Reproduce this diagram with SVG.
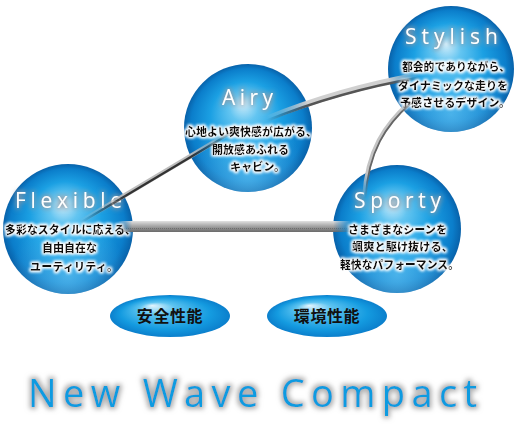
<svg xmlns="http://www.w3.org/2000/svg" width="519" height="430" viewBox="0 0 519 430">
<style>
.sph{fill:url(#sph)}
.rim{fill:url(#rim)}
.ttl{font-family:"Open Sans","DejaVu Sans",sans-serif;font-weight:400;font-size:21px;fill:#fff;filter:url(#tg)}
.jp{font-family:"Noto Sans CJK JP",sans-serif;font-weight:900;font-size:11px;fill:#111;filter:url(#jg)}
.pill{fill:url(#pill)}
.pl{font-family:"Noto Sans CJK JP",sans-serif;font-weight:700;font-size:16px;fill:#111;text-anchor:middle;letter-spacing:0.6px}
.big{font-family:"Open Sans","DejaVu Sans",sans-serif;font-weight:400;font-size:38px;fill:#0c9be0;filter:url(#bg)}
</style>
<defs>
<radialGradient id="sph" cx=".5" cy=".5" r=".5" fx=".46" fy=".3">
<stop offset="0" stop-color="#d6effb"/>
<stop offset=".22" stop-color="#63c5f1"/>
<stop offset=".55" stop-color="#1ba0e3"/>
<stop offset=".88" stop-color="#0b7ecb"/>
<stop offset="1" stop-color="#0862aa"/>
</radialGradient>
<radialGradient id="rim" cx=".5" cy=".86" r=".45">
<stop offset="0" stop-color="#7ad6ff" stop-opacity=".55"/>
<stop offset="1" stop-color="#7ad6ff" stop-opacity="0"/>
</radialGradient>
<radialGradient id="pill" cx=".5" cy=".5" r=".5" fx=".35" fy=".25">
<stop offset="0" stop-color="#e4f5fd"/>
<stop offset=".3" stop-color="#5cc3f0"/>
<stop offset=".75" stop-color="#149be0"/>
<stop offset="1" stop-color="#0b7fcc"/>
</radialGradient>
<linearGradient id="band" x1="0" y1="0" x2="0" y2="1">
<stop offset="0" stop-color="#e2e2e2"/>
<stop offset=".35" stop-color="#b4b4b4"/>
<stop offset=".7" stop-color="#8a8a8a"/>
<stop offset="1" stop-color="#6a6a6a"/>
</linearGradient>
<linearGradient id="f1" gradientUnits="userSpaceOnUse" x1="80" y1="222" x2="236" y2="129">
<stop offset="0" stop-color="#000"/><stop offset=".3" stop-color="#fff"/><stop offset=".7" stop-color="#fff"/><stop offset="1" stop-color="#000"/>
</linearGradient>
<linearGradient id="f2" gradientUnits="userSpaceOnUse" x1="266" y1="118" x2="420" y2="75">
<stop offset="0" stop-color="#000"/><stop offset=".28" stop-color="#fff"/><stop offset=".8" stop-color="#fff"/><stop offset="1" stop-color="#000"/>
</linearGradient>
<linearGradient id="f3" gradientUnits="userSpaceOnUse" x1="0" y1="100" x2="0" y2="198">
<stop offset="0" stop-color="#000"/><stop offset=".12" stop-color="#fff"/><stop offset=".75" stop-color="#fff"/><stop offset="1" stop-color="#000"/>
</linearGradient>
<linearGradient id="f4" gradientUnits="userSpaceOnUse" x1="118" y1="0" x2="352" y2="0">
<stop offset="0" stop-color="#000"/><stop offset=".06" stop-color="#fff"/><stop offset=".92" stop-color="#fff"/><stop offset="1" stop-color="#000"/>
</linearGradient>
<mask id="m1" maskUnits="userSpaceOnUse" x="0" y="0" width="519" height="430"><rect width="519" height="430" fill="url(#f1)"/></mask>
<mask id="m2" maskUnits="userSpaceOnUse" x="0" y="0" width="519" height="430"><rect width="519" height="430" fill="url(#f2)"/></mask>
<mask id="m3" maskUnits="userSpaceOnUse" x="0" y="0" width="519" height="430"><rect width="519" height="430" fill="url(#f3)"/></mask>
<mask id="m4" maskUnits="userSpaceOnUse" x="0" y="0" width="519" height="430"><rect width="519" height="430" fill="url(#f4)"/></mask>
<filter id="jg" x="-10%" y="-60%" width="120%" height="220%">
<feMorphology in="SourceAlpha" operator="dilate" radius="1.4" result="d"/>
<feGaussianBlur in="d" stdDeviation="1.5" result="b"/>
<feFlood flood-color="#fff" flood-opacity="0.95"/>
<feComposite in2="b" operator="in" result="g"/>
<feMerge><feMergeNode in="g"/><feMergeNode in="g"/><feMergeNode in="SourceGraphic"/></feMerge>
</filter>
<filter id="tg" x="-20%" y="-60%" width="140%" height="220%">
<feMorphology in="SourceAlpha" operator="dilate" radius="1" result="d"/>
<feGaussianBlur in="d" stdDeviation="2.5" result="b"/>
<feFlood flood-color="#8c9aa6" flood-opacity="0.95"/>
<feComposite in2="b" operator="in" result="g"/>
<feMerge><feMergeNode in="g"/><feMergeNode in="SourceGraphic"/></feMerge>
</filter>
<filter id="bg" x="-5%" y="-40%" width="110%" height="180%">
<feMorphology in="SourceAlpha" operator="dilate" radius="1.5" result="d"/>
<feGaussianBlur in="d" stdDeviation="2.5" result="b"/>
<feFlood flood-color="#9a9a9a" flood-opacity="0.8"/>
<feComposite in2="b" operator="in" result="g"/>
<feMerge><feMergeNode in="g"/><feMergeNode in="SourceGraphic"/></feMerge>
</filter>
</defs>
<rect width="519" height="430" fill="#fff"/>

<g id="node-airy">
<circle class="sph" cx="248" cy="128" r="64"/>
<circle class="rim" cx="248" cy="128" r="64"/>
<text class="ttl" x="222" y="105" textLength="51" lengthAdjust="spacing">Airy</text>
<text class="jp" x="185" y="136" textLength="132" lengthAdjust="spacingAndGlyphs">心地よい爽快感が広がる、</text>
<text class="jp" x="212" y="154" textLength="77" lengthAdjust="spacing">開放感あふれる</text>
<text class="jp" x="230" y="171" textLength="55" lengthAdjust="spacing">キャビン。</text>
</g>

<g id="node-stylish">
<circle class="sph" cx="451" cy="69" r="63"/>
<circle class="rim" cx="451" cy="69" r="63"/>
<text class="ttl" x="405" y="44" textLength="93" lengthAdjust="spacing">Stylish</text>
<text class="jp" x="402" y="71" textLength="108" lengthAdjust="spacingAndGlyphs">都会的でありながら、</text>
<text class="jp" x="398" y="90" textLength="110" lengthAdjust="spacingAndGlyphs">ダイナミックな走りを</text>
<text class="jp" x="400" y="107" textLength="110" lengthAdjust="spacingAndGlyphs">予感させるデザイン。</text>
</g>

<g id="node-flexible">
<circle class="sph" cx="68" cy="229" r="65"/>
<circle class="rim" cx="68" cy="229" r="65"/>
<text class="ttl" x="15" y="208" textLength="107" lengthAdjust="spacing">Flexible</text>
<text class="jp" x="5" y="234" textLength="131" lengthAdjust="spacingAndGlyphs">多彩なスタイルに応える、</text>
<text class="jp" x="42" y="252" textLength="55" lengthAdjust="spacing">自由自在な</text>
<text class="jp" x="30" y="271" textLength="88" lengthAdjust="spacing">ユーティリティ。</text>
</g>

<g id="node-sporty">
<circle class="sph" cx="397" cy="229" r="64"/>
<circle class="rim" cx="397" cy="229" r="64"/>
<text class="ttl" x="354" y="208" textLength="87" lengthAdjust="spacing">Sporty</text>
<text class="jp" x="348" y="234" textLength="99" lengthAdjust="spacingAndGlyphs">さまざまなシーンを</text>
<text class="jp" x="352" y="251" textLength="101" lengthAdjust="spacingAndGlyphs">颯爽と駆け抜ける、</text>
<text class="jp" x="340" y="269" textLength="119" lengthAdjust="spacingAndGlyphs">軽快なパフォーマンス。</text>
</g>

<g id="connectors" fill="none">
<g mask="url(#m1)">
<line x1="80" y1="222" x2="236" y2="129" stroke="#bdbdbd" stroke-width="4.5"/>
<line x1="80" y1="223" x2="236" y2="130" stroke="#333" stroke-width="2.2"/>
</g>
<g mask="url(#m2)">
<path d="M266 119 Q340 89 420 75" stroke="#d0d0d0" stroke-width="6"/>
<path d="M266 121 Q340 91 420 77.5" stroke="#555" stroke-width="2.6"/>
</g>
<g mask="url(#m3)">
<path d="M410 102 C385 124 367 150 364 198" stroke="#c4c4c4" stroke-width="4"/>
<path d="M411 103 C386 125 368.5 151 365.5 198" stroke="#666" stroke-width="1.8"/>
</g>
<g mask="url(#m4)">
<rect x="118" y="221" width="234" height="11" fill="url(#band)"/>
<line x1="118" y1="228.5" x2="352" y2="228.5" stroke="#6e6e6e" stroke-width="1.2" stroke-dasharray="1 1"/>
</g>
</g>

<g id="node-safety">
<ellipse class="pill" cx="170" cy="316" rx="60" ry="21"/>
<text class="pl" x="170" y="322">安全性能</text>
</g>
<g id="node-environment">
<ellipse class="pill" cx="327" cy="316" rx="60" ry="21"/>
<text class="pl" x="327" y="322">環境性能</text>
</g>

<text class="big" x="28" y="407" textLength="449" lengthAdjust="spacing">New Wave Compact</text>
</svg>
